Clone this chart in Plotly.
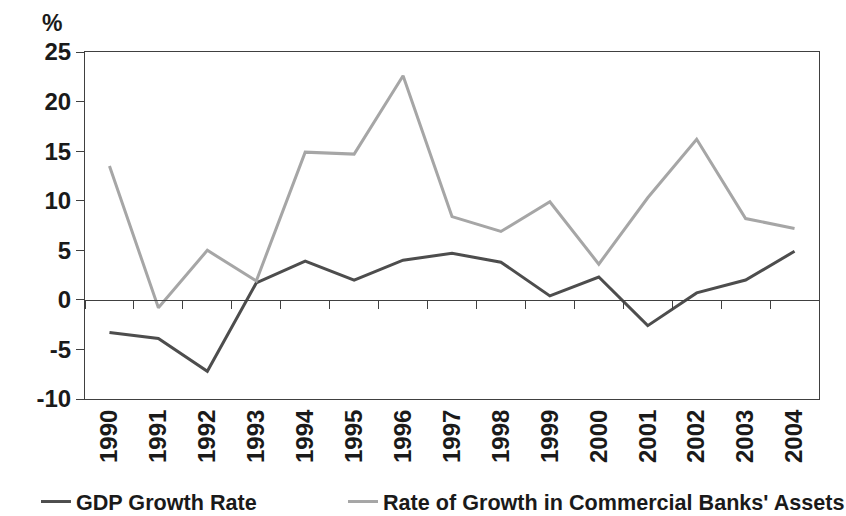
import plotly.graph_objects as go

years = [str(y) for y in range(1990, 2005)]
gdp_growth = [-3.3, -3.9, -7.2, 1.7, 3.9, 2.0, 4.0, 4.7, 3.8, 0.4, 2.3, -2.6, 0.7, 2.0, 4.9]
bank_assets_growth = [13.5, -0.8, 5.0, 1.9, 14.9, 14.7, 22.6, 8.4, 6.9, 9.9, 3.6, 10.3, 16.2, 8.2, 7.2]
y_ticks = [-10, -5, 0, 5, 10, 15, 20, 25]
y_tick_text = ["-10", "-5", "0", "5", "10", "15", "20", "25"]
y_min, y_max = -10, 25

FONT = "Liberation Sans, Arial, sans-serif"
AXIS_COLOR = "#404040"
TEXT_COLOR = "#1a1a1a"

fig = go.Figure()
fig.add_trace(go.Scatter(x=years, y=gdp_growth, mode="lines", name="GDP Growth Rate",
                         line=dict(color="#4d4d4d", width=3), legend="legend"))
fig.add_trace(go.Scatter(x=years, y=bank_assets_growth, mode="lines",
                         name="Rate of Growth in Commercial Banks' Assets",
                         line=dict(color="#a6a6a6", width=3), legend="legend2"))
# invisible trace to activate the zero-line axis with boundary ticks
fig.add_trace(go.Scatter(x=years, y=[None] * len(years), xaxis="x2", showlegend=False,
                         hoverinfo="skip"))

x_range = [-0.5, len(years) - 0.5]
legend_font = dict(family=FONT, size=21.6, color=TEXT_COLOR, weight="bold")

fig.update_layout(
    width=846, height=516,
    margin=dict(l=85, r=27, t=52, b=117, autoexpand=False),
    plot_bgcolor="white", paper_bgcolor="white",
    font=dict(family=FONT, size=20, color=TEXT_COLOR),
    xaxis=dict(type="category", range=x_range, showline=True, linecolor=AXIS_COLOR,
               linewidth=1, mirror=True, ticks="", tickangle=-90, showgrid=False,
               zeroline=False,
               tickfont=dict(family=FONT, size=24, color=TEXT_COLOR, weight="bold")),
    xaxis2=dict(type="category", range=x_range, overlaying="x", anchor="free",
                position=(0 - y_min) / (y_max - y_min), side="bottom",
                showline=True, linecolor=AXIS_COLOR, linewidth=1,
                ticks="outside", tickson="boundaries", ticklen=8, tickcolor=AXIS_COLOR,
                showticklabels=False, showgrid=False, zeroline=False),
    yaxis=dict(range=[y_min, y_max], tickvals=y_ticks, ticktext=y_tick_text,
               showline=True, linecolor=AXIS_COLOR, linewidth=1, mirror=True,
               ticks="outside", ticklen=8, tickcolor=AXIS_COLOR,
               showgrid=False, zeroline=False,
               tickfont=dict(family=FONT, size=24, color=TEXT_COLOR, weight="bold")),
    legend=dict(orientation="h", x=-0.0668, xanchor="left", y=-0.2968, yanchor="middle",
                font=legend_font, bgcolor="rgba(0,0,0,0)"),
    legend2=dict(orientation="h", x=0.3515, xanchor="left", y=-0.2968, yanchor="middle",
                 font=legend_font, bgcolor="rgba(0,0,0,0)"),
    annotations=[dict(text="<b>%</b>", xref="paper", yref="paper", x=-0.045, y=1.0836,
                      xanchor="center", yanchor="middle", showarrow=False,
                      font=dict(family=FONT, size=23, color=TEXT_COLOR))],
)

fig.write_html("out.html", config={"displayModeBar": False},
               post_script="document.body.style.margin='0';")
